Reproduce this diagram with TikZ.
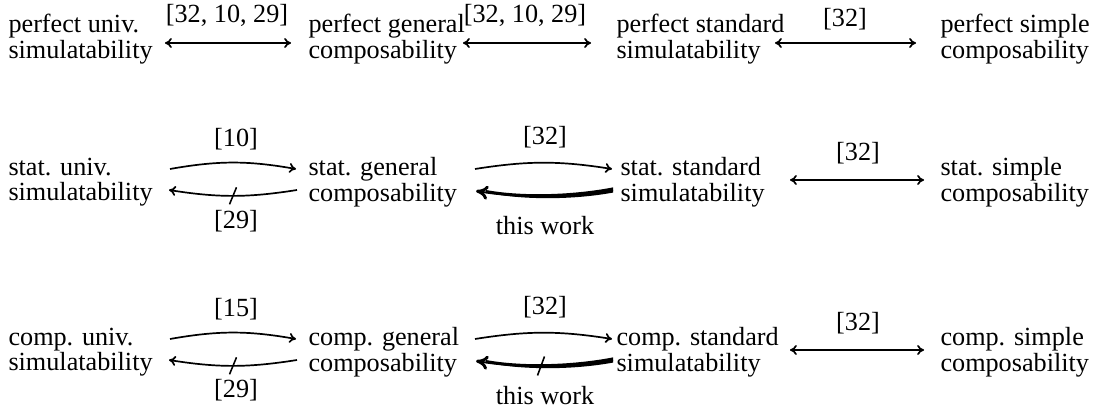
\documentclass[tikz,border=0pt]{standalone}
\usepackage{fontspec}
\setmainfont{Liberation Serif}
\usetikzlibrary{arrows.meta,calc}
\newcommand\ThickBack[3]{% #1 y base, #2 name of start coord, #3 name of end coord
  \coordinate (#2) at (613,#1);
  \coordinate (#3) at (476,#1+1);
  \draw[line width=0.75pt,-{Computer Modern Rightarrow[length=4.6pt,width=5.4pt,line width=1.1pt]}]
    (#2) .. controls (570,#1+8) and (520,#1+8) .. (#3);
  \fill (613,#1-2.6) .. controls (570,#1+5.6) and (520,#1+6.3) .. (486,#1+0.0)
     -- (486,#1+2.6) .. controls (520,#1+9.7) and (570,#1+10.4) .. (613,#1+2.6) -- cycle;
}
\begin{document}
\begin{tikzpicture}[x=0.3817pt,y=-0.3817pt,
  lbl/.style={inner sep=0pt,align=left,anchor=west,font=\fontsize{10}{9.8}\selectfont},
  ref/.style={inner sep=0pt,font=\fontsize{10}{12}\selectfont},
  arr/.style={line width=0.65pt,-{Computer Modern Rightarrow[length=2.6pt,width=3.8pt]}},
  darr/.style={line width=0.65pt,{Computer Modern Rightarrow[length=2.6pt,width=3.8pt]}-{Computer Modern Rightarrow[length=2.6pt,width=3.8pt]}},
  slash/.style={line width=0.6pt},
]
\useasboundingbox (0,0) rectangle (1094,413);

% row 1
\node[lbl] (pu) at (8,39) {perfect univ.\\simulatability};
\node[lbl] (pg) at (308,39) {perfect general\\composability};
\node[lbl] (ps) at (616,39) {perfect standard\\simulatability};
\node[lbl] (pc) at (940,39) {perfect simple\\composability};
\coordinate (a1) at (165,43); \coordinate (b1) at (291,43);
\coordinate (a2) at (463,43); \coordinate (b2) at (591,43);
\coordinate (a3) at (775,43); \coordinate (b3) at (916,43);
\draw[darr] (a1) -- (b1);
\draw[darr] (a2) -- (b2);
\draw[darr] (a3) -- (b3);
\node[ref] (r1) at (227,15) {[32, 10, 29]};
\node[ref] (r2) at (525,15) {[32, 10, 29]};
\node[ref] (r3) at (845,19) {[32]};

% row 2
\node[lbl] (su) at (8,182) {stat. univ.\\simulatability};
\node[lbl] (sg) at (308,182) {stat. general\\composability};
\node[lbl] (ss) at (620,182) {stat. standard\\simulatability};
\node[lbl] (sc) at (940,182) {stat. simple\\composability};
\coordinate (c1) at (170,169); \coordinate (d1) at (296,169);
\coordinate (c2) at (297,190); \coordinate (d2) at (169,190);
\draw[arr] (c1) to[bend left=10] (d1);
\draw[arr] (c2) to[bend left=9] coordinate[pos=0.5] (m1) (d2);
\draw[slash] ($(m1)+(3.5,-8.5)$) -- ($(m1)+(-3.5,8.5)$);
\node[ref] (r4) at (236,139) {[10]};
\node[ref] (r5) at (236,221) {[29]};
\coordinate (c3) at (475,169); \coordinate (d3) at (612,169);
\draw[arr] (c3) to[bend left=9] (d3);
\ThickBack{190}{e1}{f1}
\node[ref] (r6) at (545,137) {[32]};
\node[ref] (r7) at (545,226) {this work};
\coordinate (c4) at (790,180); \coordinate (d4) at (924,180);
\draw[darr] (c4) -- (d4);
\node[ref] (r8) at (858,153) {[32]};

% row 3
\node[lbl] (cu) at (8,352) {comp. univ.\\simulatability};
\node[lbl] (cg) at (308,352) {comp. general\\composability};
\node[lbl] (cs) at (616,352) {comp. standard\\simulatability};
\node[lbl] (cc) at (940,352) {comp. simple\\composability};
\coordinate (g1) at (170,339); \coordinate (h1) at (296,339);
\coordinate (g2) at (297,360); \coordinate (h2) at (169,360);
\draw[arr] (g1) to[bend left=10] (h1);
\draw[arr] (g2) to[bend left=9] coordinate[pos=0.5] (m2) (h2);
\draw[slash] ($(m2)+(3.5,-8.5)$) -- ($(m2)+(-3.5,8.5)$);
\node[ref] (r9) at (236,309) {[15]};
\node[ref] (r10) at (236,390) {[29]};
\coordinate (g3) at (475,339); \coordinate (h3) at (612,339);
\draw[arr] (g3) to[bend left=9] (h3);
\ThickBack{360}{e2}{f2}
\coordinate (m3) at (541,366);
\draw[slash] ($(m3)+(3.5,-9.5)$) -- ($(m3)+(-3.5,9.5)$);
\node[ref] (r11) at (545,307) {[32]};
\node[ref] (r12) at (545,396) {this work};
\coordinate (g4) at (790,350); \coordinate (h4) at (924,350);
\draw[darr] (g4) -- (h4);
\node[ref] (r13) at (858,323) {[32]};
\end{tikzpicture}
\end{document}
